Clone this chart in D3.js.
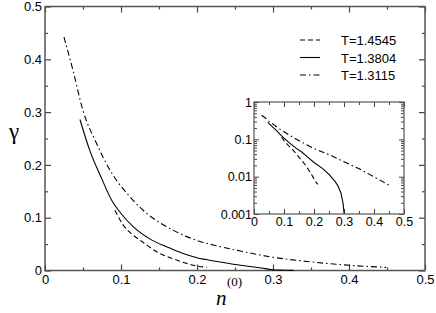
<!DOCTYPE html>
<meta charset="utf-8">
<style>
body { margin: 0; background: #fff; }
.tick text { font-family: "Liberation Sans", Arial, sans-serif; font-size: 13px; fill: #000; }
.inset .tick text { font-size: 12.5px; }
.tick line { stroke: #444; }
.frame { fill: none; stroke: #555; stroke-width: 1.5px; }
.curve { fill: none; stroke: #000; stroke-width: 1.1px; }
.legend text { font-family: "Liberation Sans", Arial, sans-serif; font-size: 13px; }
</style>
<svg width="436" height="313"></svg>
<script src="https://cdn.jsdelivr.net/npm/d3@7"></script>
<script>

// T=1.4545 (dashed)
var dashX = [0.092, 0.103, 0.115, 0.125, 0.147, 0.173, 0.19, 0.208, 0.213];
var dashY = [0.114, 0.086, 0.068, 0.0575, 0.0355, 0.0198, 0.012, 0.0068, 0.0062];
// T=1.3804 (solid)
var solidX = [0.046, 0.059, 0.0746, 0.0877, 0.10, 0.116, 0.14, 0.16, 0.18, 0.20, 0.228, 0.25, 0.27, 0.28, 0.29, 0.297, 0.30, 0.302, 0.315, 0.327];
var solidY = [0.286, 0.227, 0.174, 0.133, 0.108, 0.083, 0.058, 0.045, 0.033, 0.024, 0.0167, 0.0115, 0.0075, 0.0056, 0.0036, 0.0019, 0.0011, 0.0009, 0.0006, 0.0002];
// T=1.3115 (dash-dot)
var ddX = [0.025, 0.037, 0.05, 0.068, 0.0855, 0.112, 0.134, 0.169, 0.20, 0.228, 0.26, 0.296, 0.349, 0.401, 0.449];
var ddY = [0.442, 0.378, 0.303, 0.24, 0.19, 0.139, 0.108, 0.076, 0.057, 0.046, 0.036, 0.026, 0.0165, 0.0098, 0.006];

var labels = ["T=1.4545", "T=1.3804", "T=1.3115"];
var dashes = ["5,3", null, "6,3,1.5,3"];

var series = [
  {x: dashX, y: dashY},
  {x: solidX, y: solidY},
  {x: ddX, y: ddY}
].map(function(s) {
  return s.x.map(function(v, i) { return {x: v, y: s.y[i]}; });
});

var svg = d3.select("svg");

// main plot
var m = {left: 45, top: 6.5, width: 380, height: 264};
var g = svg.append("g").attr("transform", "translate(" + m.left + "," + m.top + ")");

var x = d3.scaleLinear().domain([0, 0.5]).range([0, m.width]);
var y = d3.scaleLinear().domain([0, 0.5]).range([m.height, 0]);

var fmt = function(d) { return d === 0 ? "0" : d3.format(".1f")(d); };
var major = d3.range(0, 0.51, 0.1), minor = d3.range(0.05, 0.5, 0.1);

function ticks(sel, axisFn, scale, vals, size, fmtFn, pad) {
  sel.call(axisFn(scale).tickValues(vals).tickSizeInner(-size).tickSizeOuter(0)
    .tickPadding(pad).tickFormat(fmtFn))
    .select(".domain").remove();
}

g.append("g").attr("transform", "translate(0," + m.height + ")")
  .call(ticks, d3.axisBottom, x, major, 6, fmt, 4);
g.append("g").attr("transform", "translate(0," + m.height + ")")
  .call(ticks, d3.axisBottom, x, minor, 3, "", 4);
g.append("g").call(ticks, d3.axisTop, x, major, 6, "", 4);
g.append("g").call(ticks, d3.axisTop, x, minor, 3, "", 4);
g.append("g").call(ticks, d3.axisLeft, y, major, 6, fmt, 3);
g.append("g").call(ticks, d3.axisLeft, y, minor, 3, "", 3);
g.append("g").attr("transform", "translate(" + m.width + ",0)")
  .call(ticks, d3.axisRight, y, major, 6, "", 3);
g.append("g").attr("transform", "translate(" + m.width + ",0)")
  .call(ticks, d3.axisRight, y, minor, 3, "", 3);

g.selectAll(".tick line").attr("stroke-width", 1.2);

g.append("rect").attr("class", "frame").attr("width", m.width).attr("height", m.height);

var line = d3.line()
  .curve(d3.curveMonotoneX)
  .x(function(d) { return x(d.x); })
  .y(function(d) { return y(d.y); });

g.selectAll(".curve").data(series).enter().append("path")
  .attr("class", "curve")
  .attr("stroke-dasharray", function(d, i) { return dashes[i]; })
  .attr("d", line);

// legend
var leg = svg.append("g").attr("class", "legend");
labels.forEach(function(t, i) {
  var ly = 40 + i * 17.5;
  leg.append("line").attr("x1", 300).attr("x2", 320).attr("y1", ly).attr("y2", ly)
    .attr("stroke", "#000").attr("stroke-width", 1.1)
    .attr("stroke-dasharray", dashes[i]);
  leg.append("text").attr("x", 341).attr("y", ly + 5).text(t);
});

// axis titles
svg.append("text").attr("x", 9).attr("y", 139)
  .style("font-family", "'Liberation Serif', serif").style("font-size", "23px")
  .text("γ");
var xt = svg.append("text").attr("x", 216).attr("y", 305)
  .style("font-family", "'Liberation Serif', serif").style("font-size", "21px");
xt.append("tspan").style("font-style", "italic").text("n");
xt.append("tspan").attr("dy", -19).attr("dx", 0.5).style("font-size", "13px").text("(0)");

// inset
var ins = {left: 254, top: 102, width: 150, height: 112};
var gi = svg.append("g").attr("class", "inset")
  .attr("transform", "translate(" + ins.left + "," + ins.top + ")");

var xi = d3.scaleLinear().domain([0, 0.5]).range([0, ins.width]);
var yi = d3.scaleLog().domain([0.001, 1]).range([ins.height, 0]);

var decades = [0.001, 0.01, 0.1, 1];
var logMinor = [];
[0.001, 0.01, 0.1].forEach(function(d) {
  for (var k = 2; k <= 9; k++) logMinor.push(d * k);
});
var logFmt = function(d) { return d === 1 ? "1" : String(d); };
var fmtI = function(d) { return d === 0 ? "0" : d3.format(".1f")(d); };

gi.append("g").attr("transform", "translate(0," + ins.height + ")")
  .call(ticks, d3.axisBottom, xi, major, 5, fmtI, 3);
gi.append("g").attr("transform", "translate(0," + ins.height + ")")
  .call(ticks, d3.axisBottom, xi, minor, 3, "", 3);
gi.append("g").call(ticks, d3.axisTop, xi, major, 5, "", 3);
gi.append("g").call(ticks, d3.axisTop, xi, minor, 3, "", 3);
gi.append("g").call(ticks, d3.axisLeft, yi, decades, 5, logFmt, 2);
gi.append("g").call(ticks, d3.axisLeft, yi, logMinor, 3, "", 2);
gi.append("g").attr("transform", "translate(" + ins.width + ",0)")
  .call(ticks, d3.axisRight, yi, decades, 5, "", 2);
gi.append("g").attr("transform", "translate(" + ins.width + ",0)")
  .call(ticks, d3.axisRight, yi, logMinor, 3, "", 2);

gi.selectAll(".tick line").attr("stroke-width", 1);

svg.append("clipPath").attr("id", "insclip")
  .append("rect").attr("width", ins.width).attr("height", ins.height);

// inset: the solid curve falls below 0.001 just past n=0.3
function lineI(d, i) {
  return d3.line()
    .x(function(p) { return xi(p.x); })
    .y(function(p) { return yi(i === 1 && p.x > 0.3 ? 1e-5 : p.y); })(d);
}

gi.append("g").attr("clip-path", "url(#insclip)")
  .selectAll(".curve").data(series).enter().append("path")
  .attr("class", "curve")
  .attr("stroke-dasharray", function(d, i) { return dashes[i]; })
  .attr("d", lineI);

gi.append("rect").attr("class", "frame").attr("width", ins.width).attr("height", ins.height)
  .style("stroke-width", "1.2px");

</script>
